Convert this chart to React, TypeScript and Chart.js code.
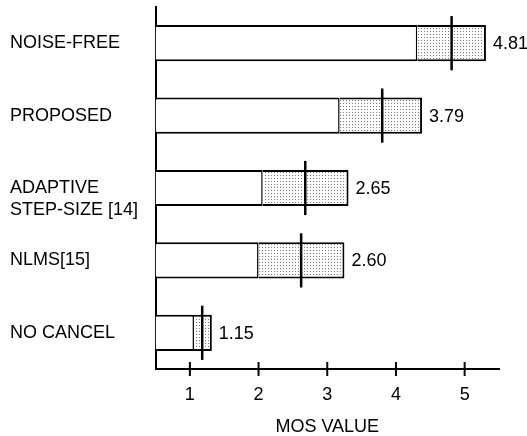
import React, { useEffect, useRef } from 'react';
import { Chart, registerables } from 'chart.js';

Chart.register(...registerables);

// ---- data ----
const CATEGORY_LINES: string[][] = [
  ['NOISE-FREE'],
  ['PROPOSED'],
  ['', 'ADAPTIVE', 'STEP-SIZE [14]'],
  ['NLMS[15]'],
  ['NO CANCEL'],
];
const AXIS_START = 0.5;
const AXIS_END = 5.5;
const X_TICKS = [1, 2, 3, 4, 5];
const LOWER = [4.31, 3.18, 2.06, 2.0, 1.06];
const UPPER = [5.31, 4.38, 3.31, 3.25, 1.32];
const MEAN_MARK = [4.81, 3.8, 2.68, 2.62, 1.18];
const MEAN_TEXT = ['4.81', '3.79', '2.65', '2.60', '1.15'];
const X_TITLE = 'MOS VALUE';

const FONT = '"Liberation Sans", Arial, Helvetica, sans-serif';
const FONT_SIZE = 18;

function makePattern(): CanvasPattern | string {
  const c = document.createElement('canvas');
  c.width = 3;
  c.height = 3;
  const g = c.getContext('2d');
  if (!g) return '#ddd';
  g.fillStyle = '#ffffff';
  g.fillRect(0, 0, 3, 3);
  g.fillStyle = '#7a7a7a';
  g.fillRect(1, 1, 1, 1);
  const p = g.createPattern(c, 'repeat');
  return p || '#ddd';
}

export default function App() {
  const ref = useRef<HTMLCanvasElement | null>(null);

  useEffect(() => {
    if (!ref.current) return;
    const pattern = makePattern();

    const markPlugin = {
      id: 'meanMarks',
      afterDatasetsDraw(chart: any) {
        const ctx = chart.ctx;
        const xs = chart.scales.x;
        const meta = chart.getDatasetMeta(1);
        ctx.save();
        ctx.strokeStyle = '#000';
        ctx.fillStyle = '#000';
        ctx.lineWidth = 2.5;
        meta.data.forEach((el: any, i: number) => {
          const x = xs.getPixelForValue(MEAN_MARK[i]);
          const half = el.height / 2 + 9;
          ctx.beginPath();
          ctx.moveTo(x, el.y - half);
          ctx.lineTo(x, el.y + half);
          ctx.stroke();
          ctx.font = `${FONT_SIZE}px ${FONT}`;
          ctx.textAlign = 'left';
          ctx.textBaseline = 'middle';
          ctx.fillText(MEAN_TEXT[i], xs.getPixelForValue(UPPER[i]) + 7, el.y + 1);
        });
        // crossing tick marks on the x axis
        const b = chart.chartArea.bottom;
        ctx.lineWidth = 2;
        X_TICKS.forEach((v) => {
          const x = xs.getPixelForValue(v);
          ctx.beginPath();
          ctx.moveTo(x, b - 7);
          ctx.lineTo(x, b + 7);
          ctx.stroke();
        });
        ctx.restore();
      },
    };

    const chart = new Chart(ref.current, {
      type: 'bar',
      data: {
        labels: CATEGORY_LINES as any,
        datasets: [
          {
            data: LOWER.map((l) => [AXIS_START, l]) as any,
            backgroundColor: '#ffffff',
            borderColor: '#000000',
            borderWidth: { top: 2, right: 1.5, bottom: 2, left: 0 } as any,
            borderSkipped: false,
            grouped: false,
            barPercentage: 0.5,
            categoryPercentage: 1,
          },
          {
            data: LOWER.map((l, i) => [l, UPPER[i]]) as any,
            backgroundColor: pattern as any,
            borderColor: '#000000',
            borderWidth: { top: 2, right: 2, bottom: 2, left: 0 } as any,
            borderSkipped: false,
            grouped: false,
            barPercentage: 0.5,
            categoryPercentage: 1,
          },
        ],
      },
      options: {
        indexAxis: 'y',
        animation: false,
        responsive: false,
        devicePixelRatio: 1,
        layout: { padding: { left: 10, top: 7, right: 28, bottom: 0 } },
        plugins: {
          legend: { display: false },
          tooltip: { enabled: false },
        },
        scales: {
          x: {
            type: 'linear',
            min: AXIS_START,
            max: AXIS_END,
            afterBuildTicks: (s: any) => {
              s.ticks = X_TICKS.map((v) => ({ value: v }));
            },
            afterFit: (s: any) => {
              s.height = 67;
              s.paddingLeft = 0;
              s.paddingRight = 0;
            },
            grid: { display: false, drawTicks: false },
            border: { display: true, color: '#000', width: 2 },
            ticks: {
              color: '#000',
              padding: 15,
              autoSkip: false,
              maxRotation: 0,
              font: { family: FONT, size: FONT_SIZE, lineHeight: 1.2 },
            },
            title: {
              display: true,
              text: X_TITLE,
              color: '#000',
              padding: 0,
              font: { family: FONT, size: FONT_SIZE, lineHeight: 1 },
            },
          },
          y: {
            type: 'category',
            afterFit: (s: any) => {
              s.width = 145.5;
              s.paddingTop = 0;
              s.paddingBottom = 0;
            },
            grid: { display: false, drawTicks: false },
            border: { display: true, color: '#000', width: 2 },
            ticks: {
              color: '#000',
              crossAlign: 'far',
              autoSkip: false,
              font: { family: FONT, size: FONT_SIZE, lineHeight: 1.2 },
            },
          },
        },
      } as any,
      plugins: [markPlugin],
    });

    return () => chart.destroy();
  }, []);

  return (
    <div style={{ position: 'absolute', left: 0, top: 0, width: 527, height: 436, background: '#fff' }}>
      <canvas ref={ref} width={527} height={436} style={{ display: 'block' }} />
    </div>
  );
}
